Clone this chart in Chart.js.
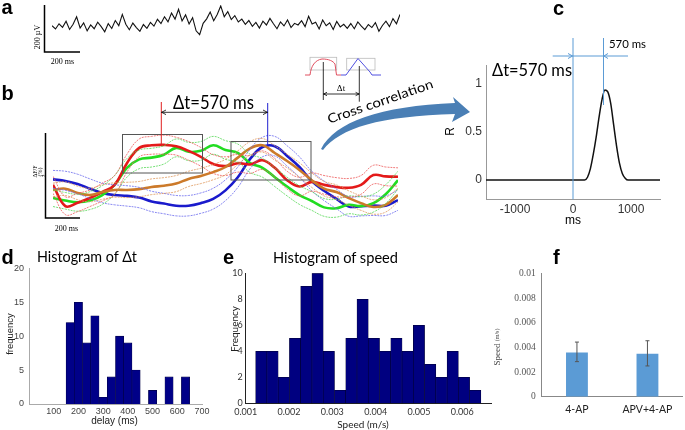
<!DOCTYPE html>
<html>
<head>
<meta charset="utf-8">
<script src="https://cdn.jsdelivr.net/npm/chart.js@4.4.1/dist/chart.umd.min.js"></script>
<style>
  body { margin: 0; background: #fff; }
  #fig { position: relative; width: 685px; height: 430px; overflow: hidden; }
  canvas { position: absolute; }
  svg { position: absolute; left: 0; top: 0; pointer-events: none; }
</style>
</head>
<body>
<div id="fig">
  <canvas id="ca" width="348" height="47" style="left:52px;top:5px"></canvas>
  <canvas id="cb" width="345" height="85" style="left:53px;top:133px"></canvas>
  <canvas id="cc" width="240" height="200" style="left:440px;top:30px"></canvas>
  <canvas id="cd" width="215" height="175" style="left:0px;top:255px"></canvas>
  <canvas id="ce" width="290" height="170" style="left:215px;top:260px"></canvas>
  <canvas id="cf" width="185" height="170" style="left:500px;top:260px"></canvas>

  <svg width="685" height="430" font-family="Liberation Sans, Arial, sans-serif">
    <!-- panel letters -->
    <g font-weight="bold" font-size="20" fill="#000">
      <text x="1.5" y="13.5">a</text>
      <text x="1.5" y="100">b</text>
      <text x="553" y="15">c</text>
      <text x="1.5" y="263.5">d</text>
      <text x="223" y="263.5">e</text>
      <text x="553" y="263.5">f</text>
    </g>

    <!-- a: scale bar -->
    <path d="M44.5 5 V52 H80" stroke="#000" stroke-width="1.5" fill="none"/>
    <text font-family="Liberation Serif, serif" font-size="8" text-anchor="middle" dominant-baseline="central"
          transform="translate(37,37) rotate(-90)">200 µV</text>
    <text font-family="Liberation Serif, serif" font-size="8" x="62.5" y="61" text-anchor="middle" dominant-baseline="central">200 ms</text>

    <!-- b: scale bar and labels -->
    <path d="M45.5 133 V218 H80" stroke="#000" stroke-width="1.5" fill="none"/>
    <g font-family="Liberation Serif, serif" font-size="6" text-anchor="middle" dominant-baseline="central">
      <text transform="translate(34.8,171.5) rotate(-90)">ΔF/F</text>
      <text transform="translate(40,172) rotate(-90)">(%)</text>
      <text transform="translate(44,176) rotate(-90)">2</text>
    </g>
    <text font-family="Liberation Serif, serif" font-size="8" x="66.5" y="228.5" text-anchor="middle" dominant-baseline="central">200 ms</text>

    <!-- b: boxes, markers, delay arrow -->
    <rect x="122.5" y="134.5" width="80" height="38.5" fill="none" stroke="#555" stroke-width="1"/>
    <rect x="231" y="141.5" width="80" height="38.5" fill="none" stroke="#555" stroke-width="1"/>
    <line x1="161.3" y1="102" x2="161.3" y2="145" stroke="#e02020" stroke-width="1"/>
    <line x1="267.7" y1="103" x2="267.7" y2="146" stroke="#2020d0" stroke-width="1"/>
    <g stroke="#000" stroke-width="0.8" fill="none">
      <line x1="161.3" y1="112.3" x2="267.7" y2="112.3"/>
      <path d="M166 110 L161.6 112.3 L166 114.6"/>
      <path d="M263 110 L267.4 112.3 L263 114.6"/>
    </g>
    <text font-family="Lato, sans-serif" font-size="19" x="173" y="109" textLength="81" lengthAdjust="spacingAndGlyphs">Δt=570 ms</text>

    <!-- inset schematic -->
    <rect x="310" y="57.3" width="26.7" height="12.7" fill="none" stroke="#bbb" stroke-width="0.8"/>
    <rect x="346.7" y="58.3" width="28.3" height="11.7" fill="none" stroke="#bbb" stroke-width="0.8"/>
    <path d="M305 75 H310 C311 66 315 60 322 59 C329 59 333 61 335 64 L336.5 75 H341" stroke="#e05060" stroke-width="1" fill="none"/>
    <path d="M341 75 H346 L358 58.5 L370 72 L372 75 H381" stroke="#5050e0" stroke-width="1" fill="none"/>
    <g stroke="#000" stroke-width="0.8" fill="none">
      <line x1="323.3" y1="62" x2="323.3" y2="100"/>
      <line x1="359.3" y1="66" x2="359.3" y2="101.7"/>
      <line x1="323.3" y1="94" x2="359.3" y2="94"/>
      <path d="M327 92.3 L323.6 94 L327 95.7"/>
      <path d="M355.6 92.3 L359 94 L355.6 95.7"/>
    </g>
    <text font-family="Liberation Serif, serif" font-size="9" x="341" y="91" text-anchor="middle">Δt</text>

    <!-- cross correlation arrow -->
    <path d="M321 149 C335 122 380 106 455 103 L453 97 L470 112 L452 122 L455 114 C380 116 340 128 323 150 Z" fill="#4a7fb5"/>
    <text font-family="Lato, sans-serif" font-size="13" text-anchor="middle" dominant-baseline="central"
          transform="translate(380,101) rotate(-19)" textLength="111" lengthAdjust="spacingAndGlyphs">Cross correlation</text>

    <!-- c: markers -->
    <g stroke="#5b9bd5" stroke-width="1" fill="none">
      <line x1="573" y1="38" x2="573" y2="199.3"/>
      <line x1="603.5" y1="38" x2="603.5" y2="105"/>
      <line x1="552.7" y1="56" x2="628" y2="56"/>
      <path d="M568 53.5 L572.6 56 L568 58.5"/>
      <path d="M608 53.5 L603.9 56 L608 58.5"/>
    </g>
    <text font-family="Lato, sans-serif" font-size="11" x="609" y="48" textLength="37" lengthAdjust="spacingAndGlyphs">570 ms</text>
    <text font-family="Lato, sans-serif" font-size="18" x="492" y="76" textLength="80" lengthAdjust="spacingAndGlyphs">Δt=570 ms</text>
    <text font-size="12" text-anchor="middle" dominant-baseline="central" transform="translate(450,131.5) rotate(-90)">R</text>
    <text font-size="12" x="573" y="220" text-anchor="middle" dominant-baseline="central">ms</text>

    <!-- d titles -->
    <text font-family="Lato, sans-serif" font-size="15" x="37" y="262" textLength="100" lengthAdjust="spacingAndGlyphs">Histogram of Δt</text>
    <text font-size="9.5" fill="#222" text-anchor="middle" dominant-baseline="central" transform="translate(9.5,334) rotate(-90)">frequency</text>
    <text font-size="10" fill="#222" x="114.5" y="420" text-anchor="middle" dominant-baseline="central">delay (ms)</text>

    <!-- e titles -->
    <text font-family="Lato, sans-serif" font-size="15" x="273" y="263" textLength="125" lengthAdjust="spacingAndGlyphs">Histogram of speed</text>
    <text font-family="Lato, sans-serif" font-size="10" fill="#222" text-anchor="middle" dominant-baseline="central" transform="translate(233.5,329) rotate(-90)">Frequency</text>
    <text font-family="Lato, sans-serif" font-size="10" fill="#222" x="363" y="424" text-anchor="middle" dominant-baseline="central">Speed (m/s)</text>

    <!-- f y title -->
    <text font-family="Liberation Serif, serif" font-size="9" fill="#444" text-anchor="middle" dominant-baseline="central"
          transform="translate(497,347) rotate(-90)">Speed <tspan font-size="6">(m/s)</tspan></text>
  </svg>
</div>

<script>
// ---- a: raw field potential (µV), one sample every 20 ms
const aTrace = [112, 98, 120, 105, 131, 96, 118, 150, 102, 124, 90, 115, 99, 127,
  108, 86, 121, 100, 134, 112, 160, 118, 95, 123, 104, 88, 117, 101,
  126, 110, 139, 121, 150, 128, 166, 140, 182, 132, 158, 119, 146, 90,
  74, 122, 141, 170, 133, 160, 196, 150, 172, 138, 155, 128,
  140, 118, 134, 109, 126, 102, 131, 115, 143, 120, 99, 128, 111, 136, 104, 122, 115,
  133, 108, 152, 119, 127, 98, 136, 112, 124, 96, 130, 107, 118, 101,
  121, 99, 128, 110, 95, 117, 104, 125, 88, 113, 131, 108, 142, 120, 160];

// ---- b: dF/F traces (%), mean and band edges
const bTime = [0,70,140,210,280,350,420,490,560,630,700,770,840,910,980,1050,1120,1190,1260,1330,1400,1470,1540,1610,1680,1750,1820,1890,1960];
const bRed    = [0.78,0.28,0.36,0.47,0.61,0.78,1.29,1.65,1.71,1.72,1.69,1.58,1.44,1.27,1.22,1.29,1.26,1.36,1.18,0.89,0.74,0.85,0.78,0.73,0.71,0.78,1.01,0.98,0.97];
const bRedHi  = [0.98,0.50,0.58,0.66,0.82,1.00,1.50,1.86,1.92,1.95,1.90,1.80,1.66,1.49,1.44,1.50,1.47,1.58,1.40,1.10,0.96,1.06,1.00,0.95,0.93,1.00,1.24,1.20,1.18];
const bRedLo  = [0.58,0.08,0.15,0.27,0.40,0.56,1.08,1.44,1.50,1.50,1.48,1.36,1.22,1.05,1.00,1.08,1.05,1.14,0.96,0.68,0.52,0.63,0.56,0.50,0.49,0.56,0.80,0.76,0.75];
const bGreen   = [0.47,0.41,0.37,0.41,0.54,0.78,1.18,1.38,1.42,1.49,1.65,1.56,1.58,1.71,1.60,1.53,1.29,1.18,0.96,0.74,0.54,0.40,0.25,0.23,0.31,0.28,0.35,0.56,0.89];
const bGreenHi = [0.66,0.60,0.56,0.62,0.76,1.00,1.40,1.60,1.64,1.70,1.86,1.78,1.80,1.92,1.82,1.74,1.50,1.40,1.18,0.96,0.76,0.62,0.46,0.44,0.52,0.50,0.56,0.78,1.10];
const bGreenLo = [0.27,0.21,0.16,0.20,0.32,0.56,0.96,1.16,1.20,1.27,1.44,1.35,1.36,1.50,1.38,1.31,1.07,0.96,0.74,0.52,0.32,0.18,0.04,0.02,0.10,0.07,0.14,0.34,0.68];
const bOrange   = [0.66,0.69,0.59,0.54,0.61,0.66,0.66,0.68,0.73,0.76,0.81,0.92,0.99,1.08,1.20,1.42,1.64,1.71,1.53,1.34,1.13,0.89,0.69,0.61,0.47,0.35,0.26,0.31,0.54];
const bOrangeHi = [0.82,0.85,0.75,0.70,0.78,0.83,0.84,0.86,0.92,0.95,1.00,1.10,1.17,1.26,1.38,1.58,1.80,1.87,1.70,1.50,1.30,1.06,0.86,0.78,0.64,0.52,0.43,0.48,0.70];
const bOrangeLo = [0.50,0.53,0.43,0.38,0.44,0.49,0.48,0.50,0.55,0.58,0.62,0.74,0.81,0.90,1.02,1.26,1.48,1.55,1.36,1.18,0.96,0.72,0.52,0.44,0.30,0.18,0.09,0.14,0.38];
const bBlue   = [0.91,0.87,0.80,0.69,0.59,0.54,0.52,0.48,0.39,0.34,0.29,0.29,0.35,0.45,0.65,0.96,1.39,1.67,1.69,1.46,1.20,0.87,0.64,0.45,0.27,0.28,0.29,0.29,0.42];
const bBlueHi = [1.12,1.10,1.03,0.92,0.82,0.78,0.76,0.72,0.63,0.58,0.53,0.53,0.59,0.70,0.90,1.20,1.62,1.90,1.92,1.70,1.44,1.10,0.87,0.68,0.50,0.51,0.52,0.52,0.66];
const bBlueLo = [0.70,0.65,0.57,0.46,0.36,0.31,0.28,0.24,0.15,0.10,0.05,0.05,0.11,0.21,0.41,0.72,1.16,1.44,1.46,1.22,0.96,0.64,0.41,0.22,0.04,0.05,0.06,0.06,0.18];

// ---- c: cross correlation
const cLag = [-1500,-1000,-500,0,200,250,300,350,400,450,500,550,600,650,700,750,800,850,900,950,1000,1500];
const cR   = [0,0,0,0,0,0.03,0.12,0.27,0.45,0.66,0.84,0.94,0.92,0.80,0.58,0.36,0.18,0.07,0.02,0,0,0];

// ---- d: histogram of delay (bin centres in ms)
const dBins  = [166.67,200,233.33,266.67,300,333.33,366.67,400,433.33,466.67,500,533.33,566.67,600,633.33];
const dCount = [12,15,9,13,1,4,10,9,5,0,2,0,4,0,4];

// ---- e: histogram of speed (bin centres in m/s)
const eBins  = [0.00136,0.00162,0.00188,0.00214,0.0024,0.00266,0.00292,0.00318,0.00344,0.0037,0.00396,0.00422,0.00448,0.00474,0.005,0.00526,0.00552,0.00578,0.00604,0.0063];
const eCount = [4,4,2,5,9,10,4,1,5,8,5,4,5,4,6,3,2,4,2,1];

// ---- f: mean speed with error bars
const fGroups = ['4-AP', 'APV+4-AP'];
const fMean = [0.0036, 0.0035];
const fLow  = [0.00285, 0.0025];
const fHigh = [0.00444, 0.00455];

Chart.defaults.font.family = '"Liberation Sans", Arial, sans-serif';
Chart.defaults.animation = false;
Chart.defaults.responsive = false;
Chart.defaults.plugins.legend.display = false;
Chart.defaults.plugins.tooltip.enabled = false;
Chart.defaults.elements.point.radius = 0;

const xy = (xs, ys) => ys.map((v, i) => ({x: xs[i], y: v}));
const fixTicks = vals => s => { s.ticks = vals.map(v => ({value: v})); };

// a
new Chart(document.getElementById('ca'), {
  type: 'line',
  data: { datasets: [{ data: aTrace.map((v, i) => ({x: i * 20, y: v})), borderColor: '#111', borderWidth: 1.1, tension: 0 }] },
  options: {
    layout: { padding: 0 },
    scales: { x: { type: 'linear', display: false, min: 0, max: 1980 }, y: { display: false, min: 0, max: 200 } }
  }
});

// b
function thin(ys, col) { return { data: xy(bTime, ys), borderColor: col, borderWidth: 0.8, borderDash: [2, 1], tension: 0.4, clip: false }; }
function thick(ys, col) { return { data: xy(bTime, ys), borderColor: col, borderWidth: 2.6, tension: 0.4, clip: false }; }
new Chart(document.getElementById('cb'), {
  type: 'line',
  data: { datasets: [
    thin(bOrangeHi, '#e09a60'), thin(bOrangeLo, '#e09a60'),
    thin(bRedHi, '#ee5a5a'), thin(bRedLo, '#ee5a5a'),
    thin(bGreenHi, '#55d855'), thin(bGreenLo, '#55d855'),
    thin(bBlueHi, '#6a6aee'), thin(bBlueLo, '#6a6aee'),
    thick(bOrange, '#cc7a2a'), thick(bRed, '#e41a1a'), thick(bGreen, '#22dd22'), thick(bBlue, '#1a1acc')
  ] },
  options: {
    layout: { padding: 0 },
    scales: { x: { type: 'linear', display: false, min: 0, max: 1960 }, y: { display: false, min: 0, max: 2 } }
  }
});

// c
new Chart(document.getElementById('cc'), {
  type: 'line',
  data: { datasets: [{ data: xy(cLag, cR), borderColor: '#111', borderWidth: 1.5, cubicInterpolationMode: 'monotone' }] },
  options: {
    layout: { padding: { top: 35, right: 20, left: 0, bottom: 0 } },
    scales: {
      x: { type: 'linear', min: -1500, max: 1500, afterFit: s => { s.height = 30.7; }, afterBuildTicks: fixTicks([-1000, 0, 1000]),
           grid: { display: false, drawTicks: false }, border: { color: '#999' },
           ticks: { padding: 3, color: '#333', font: { size: 12 }, callback: v => String(v) } },
      y: { min: -0.2, max: 1.2, afterFit: s => { s.width = 46; }, afterBuildTicks: fixTicks([0, 0.5, 1]),
           grid: { display: false, drawTicks: false }, border: { color: '#999' },
           ticks: { padding: 4, color: '#333', font: { size: 12 }, callback: v => String(v) } }
    }
  }
});

// d
new Chart(document.getElementById('cd'), {
  type: 'bar',
  data: { datasets: [{ data: xy(dBins, dCount), backgroundColor: '#000088', borderColor: '#000044', borderWidth: 0.6,
                       barPercentage: 1, categoryPercentage: 1 }] },
  options: {
    layout: { padding: { top: 13.3, right: 13, left: 0, bottom: 0 } },
    scales: {
      x: { type: 'linear', offset: false, min: 0, max: 700, afterFit: s => { s.height = 26; },
           afterBuildTicks: fixTicks([100, 200, 300, 400, 500, 600, 700]),
           grid: { display: false, drawTicks: false }, border: { color: '#aaa' },
           ticks: { padding: 2, color: '#444', font: { size: 9 }, callback: v => String(v) } },
      y: { min: 0, max: 20, afterFit: s => { s.width = 29; }, afterBuildTicks: fixTicks([0, 5, 10, 15, 20]),
           grid: { display: false, drawTicks: false }, border: { color: '#aaa' },
           ticks: { padding: 5, color: '#444', font: { size: 9 }, callback: v => String(v) } }
    }
  }
});

// e
new Chart(document.getElementById('ce'), {
  type: 'bar',
  data: { datasets: [{ data: xy(eBins, eCount), backgroundColor: '#000080', borderColor: '#000030', borderWidth: 0.6,
                       barPercentage: 1, categoryPercentage: 1 }] },
  options: {
    layout: { padding: { top: 13.3, right: 13.3, left: 0, bottom: 0 } },
    scales: {
      x: { type: 'linear', offset: false, min: 0.001, max: 0.00668, afterFit: s => { s.height = 26.7; },
           afterBuildTicks: fixTicks([0.001, 0.002, 0.003, 0.004, 0.005, 0.006]),
           grid: { display: false, drawTicks: false }, border: { color: '#222' },
           ticks: { padding: 3, color: '#333', font: { family: 'Lato, sans-serif', size: 9 }, callback: v => v.toFixed(3) } },
      y: { min: 0, max: 10, afterFit: s => { s.width = 30.7; }, afterBuildTicks: fixTicks([0, 2, 4, 6, 8, 10]),
           grid: { display: false, drawTicks: false }, border: { color: '#222' },
           ticks: { padding: 3, color: '#333', font: { family: 'Lato, sans-serif', size: 9 }, callback: v => String(v) } }
    }
  }
});

// f
const errorBars = {
  id: 'errorBars',
  afterDatasetsDraw(chart) {
    const ctx = chart.ctx, y = chart.scales.y;
    ctx.save();
    ctx.strokeStyle = '#555';
    ctx.lineWidth = 1;
    chart.getDatasetMeta(0).data.forEach((bar, i) => {
      const y1 = y.getPixelForValue(fLow[i]), y2 = y.getPixelForValue(fHigh[i]);
      ctx.beginPath();
      ctx.moveTo(bar.x, y1); ctx.lineTo(bar.x, y2);
      ctx.moveTo(bar.x - 2, y1); ctx.lineTo(bar.x + 2, y1);
      ctx.moveTo(bar.x - 2, y2); ctx.lineTo(bar.x + 2, y2);
      ctx.stroke();
    });
    ctx.restore();
  }
};
new Chart(document.getElementById('cf'), {
  type: 'bar',
  data: { labels: fGroups, datasets: [{ data: fMean, backgroundColor: '#5b9bd5', barPercentage: 0.31, categoryPercentage: 1 }] },
  options: {
    layout: { padding: { top: 13.7, right: 2.3, left: 0, bottom: 0 } },
    scales: {
      x: { afterFit: s => { s.height = 33.3; }, grid: { display: false, drawTicks: false }, border: { color: '#888' },
           ticks: { padding: 7, color: '#222', font: { family: 'Lato, sans-serif', size: 10.5 } } },
      y: { min: 0, max: 0.01, afterFit: s => { s.width = 41.7; }, afterBuildTicks: fixTicks([0, 0.002, 0.004, 0.006, 0.008, 0.01]),
           grid: { display: false, drawTicks: false }, border: { color: '#888' },
           ticks: { padding: 6, color: '#555', font: { family: '"Liberation Serif", serif', size: 9.5 }, callback: v => String(v) } }
    }
  },
  plugins: [errorBars]
});
</script>
</body>
</html>
